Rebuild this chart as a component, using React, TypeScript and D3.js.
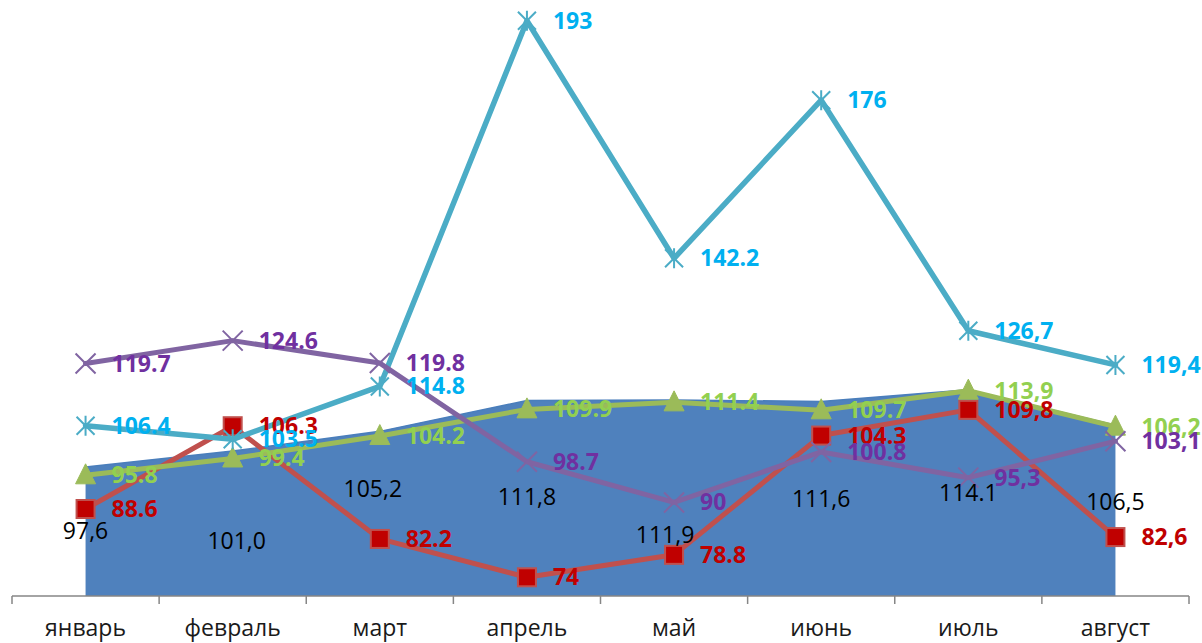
import React from "react";
import * as d3 from "d3";

const categories = ["январь", "февраль", "март", "апрель", "май", "июнь", "июль", "август"];

const areaValues = [97.6, 101.0, 105.2, 111.8, 111.9, 111.6, 114.1, 106.5];
const areaLabels = ["97,6", "101,0", "105,2", "111,8", "111,9", "111,6", "114.1", "106,5"];

const redValues = [88.6, 106.3, 82.2, 74, 78.8, 104.3, 109.8, 82.6];
const redLabels = ["88.6", "106.3", "82.2", "74", "78.8", "104.3", "109,8", "82,6"];

const greenValues = [95.8, 99.4, 104.2, 109.9, 111.4, 109.7, 113.9, 106.2];
const greenLabels = ["95.8", "99.4", "104.2", "109.9", "111.4", "109.7", "113,9", "106,2"];

const cyanValues = [106.4, 103.5, 114.8, 193, 142.2, 176, 126.7, 119.4];
const cyanLabels = ["106.4", "103.5", "114.8", "193", "142.2", "176", "126,7", "119,4"];

const purpleValues = [119.7, 124.6, 119.8, 98.7, 90, 100.8, 95.3, 103.1];
const purpleLabels = ["119.7", "124.6", "119.8", "98.7", "90", "100.8", "95,3", "103,1"];

// label placement offsets for the area series (pixels, relative to area top)
const areaLabelDx = [0, 4, -7, 0, -9, 0, 0, 0];
const areaLabelDy = [64, 90, 58, 97, 135, 98, 103, 77];

const W = 1202;
const H = 643;
const FONT = "'Open Sans', 'DejaVu Sans', sans-serif";

type Marker = "square" | "triangle" | "asterisk" | "x";

interface Series {
  values: number[];
  labels: string[];
  line: string;
  width: number;
  labelColor: string;
  marker: Marker;
  markerFill: string;
  markerStroke: string;
}

const series: Series[] = [
  { values: redValues, labels: redLabels, line: "#C0504D", width: 5, labelColor: "#C00000", marker: "square", markerFill: "#C00000", markerStroke: "#C0504D" },
  { values: greenValues, labels: greenLabels, line: "#9BBB59", width: 5, labelColor: "#92D050", marker: "triangle", markerFill: "#9BBB59", markerStroke: "#9BBB59" },
  { values: cyanValues, labels: cyanLabels, line: "#4BACC6", width: 5.5, labelColor: "#00B0F0", marker: "asterisk", markerFill: "none", markerStroke: "#4BACC6" },
  { values: purpleValues, labels: purpleLabels, line: "#8064A2", width: 5, labelColor: "#7030A0", marker: "x", markerFill: "none", markerStroke: "#8064A2" },
];

function MarkerShape({ kind, x, y, fill, stroke }: { kind: Marker; x: number; y: number; fill: string; stroke: string }) {
  if (kind === "square") {
    return <rect x={x - 9} y={y - 9} width={18} height={18} fill={fill} stroke={stroke} strokeWidth={2} />;
  }
  if (kind === "triangle") {
    const s = 10;
    return <path d={`M${x},${y - s * 1.15}L${x + s},${y + s * 0.85}L${x - s},${y + s * 0.85}Z`} fill={fill} stroke={stroke} strokeWidth={1} />;
  }
  if (kind === "asterisk") {
    const s = 9;
    return (
      <path
        d={`M${x - s},${y - s}L${x + s},${y + s}M${x - s},${y + s}L${x + s},${y - s}M${x},${y - s - 1}L${x},${y + s + 1}`}
        stroke={stroke}
        strokeWidth={2}
        fill="none"
      />
    );
  }
  const s = 10;
  return <path d={`M${x - s},${y - s}L${x + s},${y + s}M${x - s},${y + s}L${x + s},${y - s}`} stroke={stroke} strokeWidth={2} fill="none" />;
}

export default function App() {
  const x = d3.scaleBand<string>().domain(categories).range([12, 1189]);
  const cx = (c: string) => (x(c) as number) + x.bandwidth() / 2;
  const y = d3.scaleLinear().domain([70, 193]).range([596, 20.7]);

  const area = d3
    .area<number>()
    .x((_, i) => cx(categories[i]))
    .y0(y(70))
    .y1((d) => y(d));
  const areaTop = d3
    .line<number>()
    .x((_, i) => cx(categories[i]))
    .y((d) => y(d));
  const line = d3
    .line<number>()
    .x((_, i) => cx(categories[i]))
    .y((d) => y(d));

  const tickXs = [...categories.map((c) => x(c) as number), (x(categories[categories.length - 1]) as number) + x.bandwidth()];

  return (
    <svg width={W} height={H} style={{ position: "absolute", left: 0, top: 0, display: "block", background: "#fff" }} fontFamily={FONT}>
      <path d={area(areaValues) || ""} fill="#4F81BD" />
      <path d={areaTop(areaValues) || ""} fill="none" stroke="#4A7EBB" strokeWidth={1.5} />

      {/* axis */}
      <line x1={tickXs[0]} x2={tickXs[tickXs.length - 1]} y1={y(70)} y2={y(70)} stroke="#868686" strokeWidth={1.5} />
      {tickXs.map((t, i) => (
        <line key={i} x1={t} x2={t} y1={y(70)} y2={y(70) + 8} stroke="#868686" strokeWidth={1.5} />
      ))}
      {categories.map((c) => (
        <text key={c} x={cx(c)} y={636} textAnchor="middle" fontSize={23} fill="#1a1a1a">
          {c}
        </text>
      ))}

      {/* line series */}
      {series.map((s, si) => (
        <g key={si}>
          <path d={line(s.values) || ""} fill="none" stroke={s.line} strokeWidth={s.width} strokeLinejoin="round" strokeLinecap="round" />
          {s.values.map((v, i) => (
            <MarkerShape key={i} kind={s.marker} x={cx(categories[i])} y={y(v)} fill={s.markerFill} stroke={s.markerStroke} />
          ))}
        </g>
      ))}

      {/* area labels */}
      {areaValues.map((v, i) => (
        <text
          key={i}
          x={cx(categories[i]) + areaLabelDx[i]}
          y={y(v) + areaLabelDy[i] + 8}
          textAnchor="middle"
          fontSize={23}
          fill="#000"
        >
          {areaLabels[i]}
        </text>
      ))}

      {/* series labels */}
      {series.map((s, si) => (
        <g key={si}>
          {s.values.map((v, i) => (
            <text key={i} x={cx(categories[i]) + 26} y={y(v) + 8} fontSize={23} fontWeight="bold" fill={s.labelColor}>
              {s.labels[i]}
            </text>
          ))}
        </g>
      ))}
    </svg>
  );
}
